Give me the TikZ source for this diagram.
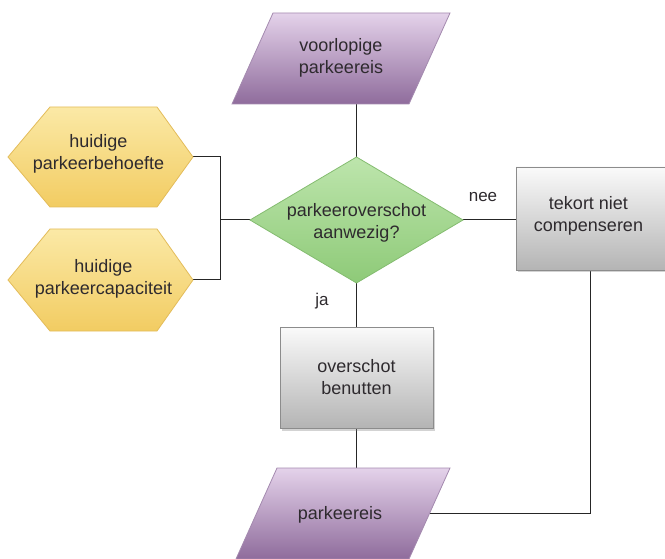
\documentclass[tikz,border=0pt]{standalone}
\usepackage{fontspec}
\setmainfont{Liberation Sans}
\usetikzlibrary{shadows}
\definecolor{txt}{HTML}{2E2A2E}
\definecolor{purT}{HTML}{E4D2EA}
\definecolor{purB}{HTML}{8F6C9C}
\definecolor{purD}{HTML}{A48AAF}
\definecolor{grnT}{HTML}{BDE5AC}
\definecolor{grnB}{HTML}{8ECA78}
\definecolor{grnD}{HTML}{84BC70}
\definecolor{yelT}{HTML}{FBE9A6}
\definecolor{yelB}{HTML}{F2CC62}
\definecolor{yelD}{HTML}{E3BC5A}
\definecolor{gryT}{HTML}{FAFAFA}
\definecolor{gryB}{HTML}{B4B4B4}
\definecolor{gryD}{HTML}{8C8C8C}
\tikzset{
  anchorbox/.style={inner sep=0pt, outer sep=0pt, align=center, text=txt,
    font=\fontsize{18pt}{22pt}\selectfont},
  purshape/.style={top color=purT, bottom color=purB, draw=purD, line width=0.8pt},
  grnshape/.style={top color=grnT, bottom color=grnB, draw=grnD, line width=0.8pt},
  yelshape/.style={top color=yelT, bottom color=yelB, draw=yelD, line width=0.8pt},
  gryshape/.style={top color=gryT, bottom color=gryB, draw=gryD, line width=0.8pt,
    drop shadow={opacity=0.35, shadow xshift=1.5pt, shadow yshift=-2.5pt}},
  conn/.style={draw=black!85, line width=1pt},
  lbl/.style={inner sep=0pt, text=txt, font=\fontsize{17pt}{20pt}\selectfont}
}
\begin{document}
\begin{tikzpicture}[x=1pt,y=-1pt]
\useasboundingbox (0,0) rectangle (665,559);
% anchor nodes (invisible rectangles holding the text)
\node[anchorbox, minimum width=218pt, minimum height=91pt] (p1) at (341,58.5) {};
\node[anchorbox, minimum width=213pt, minimum height=126pt] (d) at (356.5,220) {};
\node[anchorbox, minimum width=185pt, minimum height=100pt] (h1) at (100.5,157) {};
\node[anchorbox, minimum width=185pt, minimum height=102pt] (h2) at (100.5,280) {};
\node[anchorbox, minimum width=153pt, minimum height=101pt] (b1) at (356.5,377.5) {};
\node[anchorbox, minimum width=149pt, minimum height=103pt] (b2) at (590.5,218.5) {};
\node[anchorbox, minimum width=214pt, minimum height=91pt] (p2) at (343,513.5) {};

% connectors (behind shapes)
\coordinate (bj) at ([xshift=-30pt]d.west);
\coordinate (p2r) at ([xshift=-20.5pt]p2.east);
\draw[conn] (h1.east) -| (bj);
\draw[conn] (h2.east) -| (bj);
\draw[conn] (bj) -- (d.west);
\draw[conn] (d.north) -- (d.north |- p1.south);
\draw[conn] (d.south) -- (b1.north);
\draw[conn] (b1.south) -- (b1.south |- p2.north);
\draw[conn] (d.east) -- (d.east -| b2.west);
\draw[conn] (b2.south) |- (p2r);

% shapes
\path[purshape] ([xshift=41pt]p1.north west) -- (p1.north east) -- ([xshift=-41pt]p1.south east) -- (p1.south west) -- cycle;
\path[purshape] ([xshift=41pt]p2.north west) -- (p2.north east) -- ([xshift=-41pt]p2.south east) -- (p2.south west) -- cycle;
\path[grnshape] (d.north) -- (d.east) -- (d.south) -- (d.west) -- cycle;
\path[yelshape] ([xshift=42pt]h1.north west) -- ([xshift=-36pt]h1.north east) -- (h1.east) -- ([xshift=-36pt]h1.south east) -- ([xshift=42pt]h1.south west) -- (h1.west) -- cycle;
\path[yelshape] ([xshift=42pt]h2.north west) -- ([xshift=-36pt]h2.north east) -- (h2.east) -- ([xshift=-36pt]h2.south east) -- ([xshift=42pt]h2.south west) -- (h2.west) -- cycle;
\path[gryshape] (b1.north west) rectangle (b1.south east);
\path[gryshape] (b2.north west) rectangle (b2.south east);

% texts
\node[anchorbox] (t1) at ([yshift=1pt]p1.center) {voorlopige\\parkeereis};
\node[anchorbox] (td) at ([yshift=-3pt]d.center) {parkeeroverschot\\aanwezig?};
\node[anchorbox] (th1) at ([xshift=-2pt,yshift=3pt]h1.center) {huidige\\parkeerbehoefte};
\node[anchorbox] (th2) at ([xshift=3pt,yshift=1pt]h2.center) {huidige\\parkeercapaciteit};
\node[anchorbox] (tb1) at ([yshift=0pt]b1.center) {overschot\\benutten};
\node[anchorbox] (tb2) at ([xshift=-2pt,yshift=3pt]b2.center) {tekort niet\\compenseren};
\node[anchorbox] (tp2) at ([xshift=-3pt,yshift=-1pt]p2.center) {parkeereis};
\node[lbl] (nee) at (483,197) {nee};
\node[lbl] (ja) at (322,301) {ja};
\end{tikzpicture}
\end{document}
